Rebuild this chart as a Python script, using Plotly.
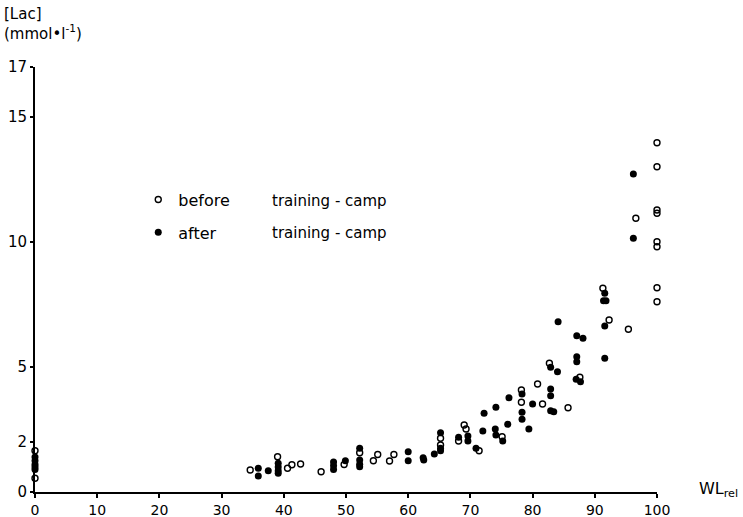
import plotly.graph_objects as go

# WL_rel (%) and blood lactate (mmol/l) - before training camp (open circles)
before_x = [0, 0, 34.6, 39.0, 40.6, 41.3, 42.7, 46.0, 49.7, 52.2, 54.4, 55.1, 57.0, 57.7,
            65.2, 65.2, 68.1, 69.0, 69.3, 71.4, 75.1, 78.2, 78.2, 80.8, 81.6, 82.7,
            85.7, 87.6, 91.3, 92.3, 95.4, 96.6,
            100, 100, 100, 100, 100, 100, 100, 100]
before_y = [0.55, 1.65, 0.88, 1.41, 0.95, 1.09, 1.12, 0.81, 1.10, 1.57, 1.25, 1.50, 1.24, 1.50,
            2.15, 1.88, 2.04, 2.68, 2.52, 1.65, 2.21, 4.08, 3.59, 4.32, 3.52, 5.15,
            3.37, 4.59, 8.15, 6.88, 6.51, 10.95,
            13.97, 13.01, 11.28, 11.15, 10.01, 9.81, 8.17, 7.61]

# after training camp (filled circles)
after_x = [0, 0, 0, 0, 0, 35.9, 35.9, 37.5, 39.1, 39.1, 39.1, 39.1, 48.0, 48.0, 48.0, 49.9,
           52.2, 52.2, 52.2, 52.2, 60.0, 60.0, 62.4, 62.5, 64.2, 65.2, 65.2, 65.2,
           68.1, 69.6, 69.6, 70.9, 72.2, 72.0, 74.1, 74.0, 74.1, 75.2, 76.0, 76.2,
           78.3, 78.3, 78.3, 80.0, 79.4, 82.9, 82.9, 82.9, 83.4, 82.9, 84.0, 84.1,
           87.1, 88.1, 87.1, 87.1, 87.0, 87.7, 91.6, 91.4, 91.8, 91.6, 91.6,
           96.2, 96.2, 100.4, 100.4, 100.4, 100.4, 100.4, 100.4, 100.4, 100.4, 100.4]
after_y = [0.90, 1.00, 1.10, 1.25, 1.40, 0.95, 0.64, 0.85, 1.15, 1.00, 0.85, 0.75, 1.20, 1.05, 0.90, 1.25,
           1.75, 1.28, 1.11, 1.01, 1.61, 1.25, 1.37, 1.28, 1.52, 2.37, 1.75, 1.65,
           2.19, 2.24, 2.04, 1.75, 3.15, 2.44, 3.39, 2.52, 2.28, 2.04, 2.71, 3.77,
           3.92, 3.19, 2.91, 3.52, 2.52, 4.12, 3.85, 3.25, 3.21, 4.99, 4.81, 6.81,
           6.25, 6.15, 5.41, 5.21, 4.51, 4.41, 7.95, 7.65, 7.65, 6.64, 5.35,
           12.72, 10.15, 15.28, 12.88, 12.05, 11.68, 10.64, 9.25, 9.12, 8.99, 8.68]

x_ticks = [0, 10, 20, 30, 40, 50, 60, 70, 80, 90, 100]
y_ticks = [0, 2, 5, 10, 15, 17]

FONT = "DejaVu Sans"

fig = go.Figure()
fig.add_trace(go.Scatter(
    x=before_x, y=before_y, mode="markers", name="before",
    marker=dict(symbol="circle-open", size=6, color="black", line=dict(width=1.4, color="black")),
    cliponaxis=False, legendgroup="a"))
fig.add_trace(go.Scatter(
    x=after_x, y=after_y, mode="markers", name="after",
    marker=dict(symbol="circle", size=7, color="black"),
    cliponaxis=False, legendgroup="b"))

fig.update_layout(
    width=743, height=517,
    margin=dict(l=35, r=86, t=67, b=25),
    paper_bgcolor="white", plot_bgcolor="white",
    font=dict(family=FONT, size=15, color="black"),
    showlegend=True,
    legend=dict(x=0.166, y=0.728, xanchor="left", yanchor="top",
                bgcolor="rgba(0,0,0,0)", traceorder="grouped", tracegroupgap=9,
                font=dict(family=FONT, size=16, color="black")),
    xaxis=dict(range=[0, 100], tickvals=x_ticks, ticktext=[str(v) for v in x_ticks],
               showgrid=False, zeroline=False, showline=True, linecolor="black", linewidth=2,
               ticks="outside", ticklen=4, tickwidth=1.5, tickcolor="black",
               ticklabelstandoff=0, automargin=False,
               tickfont=dict(family=FONT, size=14)),
    yaxis=dict(range=[0, 17], tickvals=y_ticks, ticktext=[str(v) for v in y_ticks],
               showgrid=False, zeroline=False, showline=True, linecolor="black", linewidth=2,
               ticks="outside", ticklen=3, tickwidth=1.5, tickcolor="black",
               ticklabelstandoff=0, automargin=False,
               tickfont=dict(family=FONT, size=15)),
    annotations=[
        dict(xref="paper", yref="paper", x=-0.053, y=1.15, xanchor="left", yanchor="top",
             text="[Lac]<br>(mmol\u2022l<sup>-1</sup>)", showarrow=False, align="left",
             font=dict(family=FONT, size=15)),
        dict(xref="paper", yref="paper", x=1.064, y=0.005, xanchor="left", yanchor="middle",
             text="WL<sub>rel</sub>", showarrow=False, font=dict(family=FONT, size=16)),
        dict(xref="paper", yref="paper", x=(270 - 35) / 622, y=(492 - 201) / 425,
             xanchor="left", yanchor="middle", text="training - camp", showarrow=False,
             font=dict(family=FONT, size=15)),
        dict(xref="paper", yref="paper", x=(270 - 35) / 622, y=(492 - 233) / 425,
             xanchor="left", yanchor="middle", text="training - camp", showarrow=False,
             font=dict(family=FONT, size=15)),
    ],
)

fig.write_html("out.html")
